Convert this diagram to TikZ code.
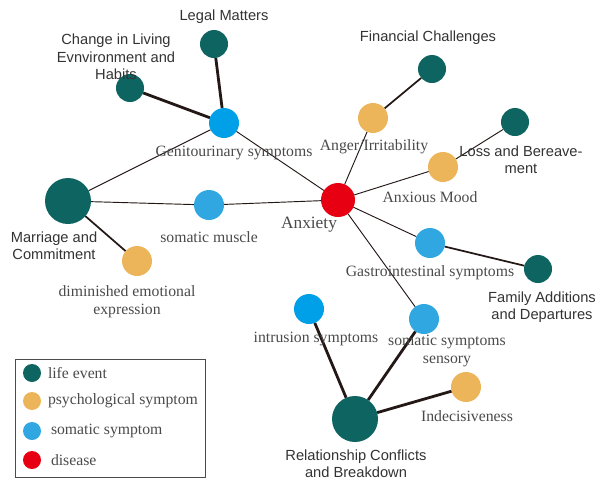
\documentclass[tikz,border=0pt]{standalone}
\usepackage{fontspec}
\setmainfont{Liberation Serif}
\newfontfamily\lsans{Liberation Sans}
\usetikzlibrary{backgrounds}
\definecolor{evcol}{HTML}{0E6460}
\definecolor{psycol}{HTML}{EDB55A}
\definecolor{somcol}{HTML}{30A7E0}
\definecolor{somcolb}{HTML}{00A0E9}
\definecolor{discol}{HTML}{E60012}
\definecolor{sanscol}{HTML}{333333}
\definecolor{sercol}{HTML}{4A4A4A}
\definecolor{edgecol}{HTML}{231815}
\begin{document}
\begin{tikzpicture}[x=0.75pt,y=-0.75pt,
  every node/.style={inner sep=0pt, outer sep=0pt},
  lev/.style={circle, fill=evcol, minimum size=21pt},
  bigev/.style={circle, fill=evcol, minimum size=34.5pt},
  psy/.style={circle, fill=psycol, minimum size=22.5pt},
  som/.style={circle, fill=somcol, minimum size=22.5pt},
  somb/.style={circle, fill=somcolb, minimum size=22.5pt},
  dis/.style={circle, fill=discol, minimum size=25.5pt},
  slab/.style={font=\lsans\fontsize{11}{13}\selectfont, text=sanscol, align=center},
  rlab/.style={font=\fontsize{11.8}{13.5}\selectfont, text=sercol, align=center},
  thinedge/.style={draw=edgecol, line width=0.7pt},
  midedge/.style={draw=edgecol, line width=1.3pt},
  thickedge/.style={draw=edgecol, line width=2.1pt},
  legc/.style={circle, minimum size=13.5pt},
  legt/.style={font=\fontsize{11.8}{13.5}\selectfont, text=sercol, anchor=west}
]
\useasboundingbox (0,0) rectangle (603,480);

% circles
\node[lev] (legal) at (214,44) {};
\node[lev] (change) at (130,88) {};
\node[somb] (genito) at (224,123) {};
\node[lev] (fin) at (432,69) {};
\node[psy] (anger) at (373,118) {};
\node[lev] (loss) at (515,122) {};
\node[psy] (mood) at (443,167) {};
\node[dis] (anx) at (338,200) {};
\node[bigev] (marr) at (68,201) {};
\node[som] (muscle) at (209,205) {};
\node[psy] (dimin) at (137,261) {};
\node[som] (gastro) at (430,243) {};
\node[lev] (family) at (538,269) {};
\node[somb] (intru) at (309,309) {};
\node[som] (sens) at (424,319) {};
\node[psy] (indec) at (466,387) {};
\node[bigev] (rel) at (355,419) {};

% edges
\begin{scope}[on background layer]
\draw[thickedge] (legal) -- (genito);
\draw[thickedge] (change) -- (genito);
\draw[thinedge] (genito) -- (marr);
\draw[thinedge] (genito) -- (anx);
\draw[thinedge] (marr) -- (muscle);
\draw[thinedge] (muscle) -- (anx);
\draw[midedge] (marr) -- (dimin);
\draw[thinedge] (anx) -- (anger);
\draw[midedge] (anger) -- (fin);
\draw[thinedge] (anx) -- (mood);
\draw[thinedge] (mood) -- (loss);
\draw[thinedge] (anx) -- (gastro);
\draw[midedge] (gastro) -- (family);
\draw[thinedge] (anx) -- (sens);
\draw[thickedge] (sens) -- (rel);
\draw[thickedge] (intru) -- (rel);
\draw[thickedge] (indec) -- (rel);
\end{scope}

% labels
\node[slab] (llegal) at (224,17) {Legal Matters};
\node[slab] (lchange) at (116,57) {Change in Living\\Evnvironment and\\Habits};
\node[rlab] (lgenito) at (234,153) {Genitourinary symptoms};
\node[slab] (lfin) at (428,38) {Financial Challenges};
\node[rlab] (langer) at (374,147) {Anger/Irritability};
\node[slab] (lloss) at (521,160) {Loss and Bereave-\\ment};
\node[rlab] (lmood) at (430,197) {Anxious Mood};
\node[rlab, font=\fontsize{13}{15}\selectfont] (lanx) at (309,225) {Anxiety};
\node[slab] (lmarr) at (54,245.5) {Marriage and\\Commitment};
\node[rlab] (lmuscle) at (209,237) {somatic muscle};
\node[rlab] (ldimin) at (127,302) {diminished emotional\\expression};
\node[rlab] (lgastro) at (430,273) {Gastrointestinal symptoms};
\node[slab] (lfamily) at (542,307.5) {Family Additions\\and Departures};
\node[rlab] (lintru) at (316,339) {intrusion symptoms};
\node[rlab] (lsens) at (447,350.5) {somatic symptoms\\sensory};
\node[rlab] (lindec) at (467,416) {Indecisiveness};
\node[slab] (lrel) at (356,463.5) {Relationship Conflicts\\and Breakdown};

% legend
\node[draw=black!70, line width=0.6pt, minimum width=142.5pt, minimum height=88.5pt, anchor=north west] (legend) at (15,359) {};
\node[legc, fill=evcol] (k1) at (32,373) {};
\node[legc, fill=psycol] (k2) at (32,401) {};
\node[legc, fill=somcol] (k3) at (32,431) {};
\node[legc, fill=discol] (k4) at (32,460) {};
\node[legt] (t1) at (48,373) {life event};
\node[legt] (t2) at (48,401) {psychological symptom};
\node[legt] (t3) at (51,431) {somatic symptom};
\node[legt] (t4) at (51,460) {disease};
\end{tikzpicture}
\end{document}
